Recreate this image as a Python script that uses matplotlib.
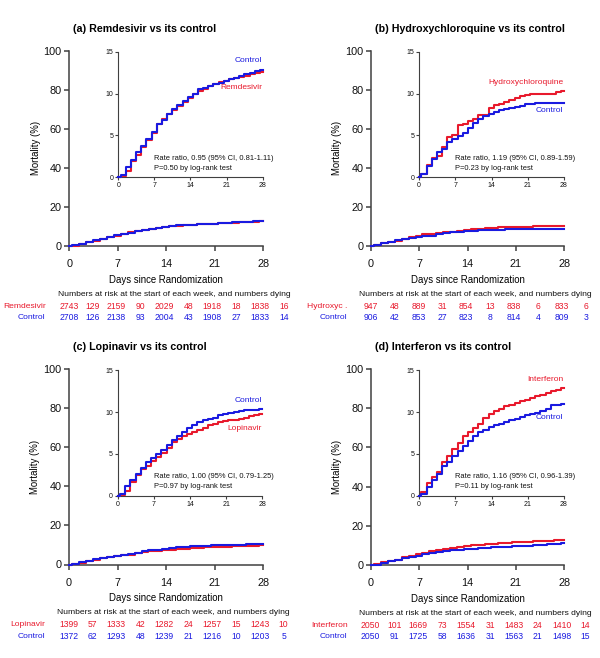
import matplotlib
matplotlib.use('Agg')
import matplotlib.pyplot as plt
import numpy as np

plt.rcParams['font.family'] = ['Liberation Sans', 'DejaVu Sans']

# ---------------- data ----------------
days_max = 28
step_days = np.arange(0.45, 28, 1.0)   # daily event times

remdesivir_arm = [0.2, 0.8, 1.9, 2.7, 3.6, 4.4, 5.3, 6.4, 7.0, 7.6, 8.0, 8.5, 9.0, 9.5,
                  10.0, 10.3, 10.6, 10.9, 11.2, 11.4, 11.5, 11.7, 11.9, 12.0, 12.1, 12.3, 12.4, 12.6]
remdesivir_ctrl = [0.3, 1.2, 2.1, 3.0, 3.7, 4.6, 5.4, 6.4, 6.9, 7.6, 8.1, 8.6, 9.1, 9.6,
                   10.0, 10.5, 10.7, 10.9, 11.1, 11.3, 11.5, 11.7, 11.9, 12.1, 12.3, 12.5, 12.7, 12.8]

hcq_arm = [0.4, 1.5, 2.3, 2.5, 3.6, 4.8, 5.1, 6.2, 6.4, 6.7, 7.0, 7.4, 7.5, 8.3,
           8.6, 8.8, 9.0, 9.2, 9.5, 9.7, 9.8, 9.9, 9.9, 10.0, 10.0, 10.0, 10.2, 10.3]
hcq_ctrl = [0.4, 1.4, 2.2, 3.0, 3.4, 4.2, 4.6, 4.9, 5.3, 5.9, 6.5, 7.0, 7.3, 7.6,
            7.8, 8.0, 8.2, 8.3, 8.4, 8.5, 8.7, 8.8, 8.9, 8.9, 8.9, 8.9, 8.9, 8.9]

lopinavir_arm = [0.1, 0.6, 1.6, 2.5, 3.2, 3.6, 4.1, 4.6, 5.1, 5.7, 6.4, 6.8, 7.1, 7.4,
                 7.6, 7.8, 8.1, 8.4, 8.6, 8.8, 8.9, 9.0, 9.0, 9.2, 9.3, 9.5, 9.6, 9.8]
lopinavir_ctrl = [0.2, 1.2, 1.9, 2.6, 3.3, 4.0, 4.5, 5.0, 5.5, 6.1, 6.7, 7.2, 7.6, 8.1,
                  8.5, 8.8, 9.0, 9.2, 9.3, 9.7, 9.8, 9.9, 10.0, 10.1, 10.2, 10.3, 10.3, 10.4]

interferon_arm = [0.5, 1.5, 2.2, 2.8, 4.0, 4.8, 5.6, 6.3, 7.1, 7.6, 8.1, 8.6, 9.3, 9.8,
                  10.1, 10.4, 10.7, 10.9, 11.1, 11.3, 11.5, 11.7, 11.9, 12.1, 12.3, 12.5, 12.7, 12.9]
interferon_ctrl = [0.2, 1.1, 1.9, 2.6, 3.5, 4.0, 4.8, 5.4, 5.9, 6.5, 7.1, 7.6, 7.9, 8.2,
                   8.4, 8.6, 8.8, 9.0, 9.2, 9.4, 9.6, 9.8, 9.9, 10.1, 10.4, 10.8, 10.9, 11.0]

remdesivir_risk_arm = [2743, 129, 2159, 90, 2029, 48, 1918, 18, 1838, 16]
remdesivir_risk_ctrl = [2708, 126, 2138, 93, 2004, 43, 1908, 27, 1833, 14]
hcq_risk_arm = [947, 48, 889, 31, 854, 13, 838, 6, 833, 6]
hcq_risk_ctrl = [906, 42, 853, 27, 823, 8, 814, 4, 809, 3]
lopinavir_risk_arm = [1399, 57, 1333, 42, 1282, 24, 1257, 15, 1243, 10]
lopinavir_risk_ctrl = [1372, 62, 1293, 48, 1239, 21, 1216, 10, 1203, 5]
interferon_risk_arm = [2050, 101, 1669, 73, 1554, 31, 1483, 24, 1410, 14]
interferon_risk_ctrl = [2050, 91, 1725, 58, 1636, 31, 1563, 21, 1498, 15]

titles = ['(a) Remdesivir vs its control', '(b) Hydroxychloroquine vs its control',
          '(c) Lopinavir vs its control', '(d) Interferon vs its control']
arm_names = ['Remdesivir', 'Hydroxychloroquine', 'Lopinavir', 'Interferon']
row_names = ['Remdesivir', 'Hydroxyc .', 'Lopinavir', 'Interferon']
stats = [('Rate ratio, 0.95 (95% CI, 0.81-1.11)', 'P=0.50 by log-rank test'),
         ('Rate ratio, 1.19 (95% CI, 0.89-1.59)', 'P=0.23 by log-rank test'),
         ('Rate ratio, 1.00 (95% CI, 0.79-1.25)', 'P=0.97 by log-rank test'),
         ('Rate ratio, 1.16 (95% CI, 0.96-1.39)', 'P=0.11 by log-rank test')]

arms = [remdesivir_arm, hcq_arm, lopinavir_arm, interferon_arm]
ctrls = [remdesivir_ctrl, hcq_ctrl, lopinavir_ctrl, interferon_ctrl]
risk_arm = [remdesivir_risk_arm, hcq_risk_arm, lopinavir_risk_arm, interferon_risk_arm]
risk_ctrl = [remdesivir_risk_ctrl, hcq_risk_ctrl, lopinavir_risk_ctrl, interferon_risk_ctrl]

# label positions (inset data coords): arm label y, control label y
label_y = [(10.7, 13.9), (11.35, 7.96), (7.98, 11.4), (13.84, 9.38)]

# ---------------- layout (pixels) ----------------
W, H = 600, 658
RED = '#e8192c'
BLUE = '#1a1ae0'
SPINE = '#404040'

main_boxes = [(69.3, 50.7, 263.3, 246.0), (371.0, 50.7, 564.3, 246.0),
              (69.0, 368.7, 263.3, 564.5), (371.0, 369.0, 564.3, 565.0)]
inset_boxes = [(118.3, 51.7, 262.7, 177.3), (419.0, 51.7, 564.0, 177.3),
               (117.7, 370.3, 262.3, 495.7), (419.0, 370.3, 564.0, 495.7)]

fig = plt.figure(figsize=(W / 100, H / 100), dpi=100)


def add_px_axes(box):
    l, t, r, b = box
    return fig.add_axes([l / W, 1 - b / H, (r - l) / W, (b - t) / H])


def curve(vals):
    x = np.concatenate([[0], step_days, [days_max]])
    y = np.concatenate([[0], vals, [vals[-1]]])
    return x, y


def style(ax, lw, tl, fs, col=SPINE):
    for s in ['top', 'right']:
        ax.spines[s].set_visible(False)
    for s in ['left', 'bottom']:
        ax.spines[s].set_color(col)
        ax.spines[s].set_linewidth(lw)
    ax.tick_params(direction='out', length=tl, width=lw, colors=col, labelsize=fs,
                   labelcolor='#111111', pad=2)


for i in range(4):
    ax = add_px_axes(main_boxes[i])
    xa, ya = curve(arms[i])
    xc, yc = curve(ctrls[i])
    ax.step(xa, ya, where='post', color=RED, lw=1.5, clip_on=False, zorder=3)
    ax.step(xc, yc, where='post', color=BLUE, lw=1.5, clip_on=False, zorder=4)
    ax.set_xlim(0, 28)
    ax.set_ylim(0, 100)
    ax.set_xticks([0, 7, 14, 21, 28])
    ax.set_yticks([0, 20, 40, 60, 80, 100])
    style(ax, 1.1, 3.5, 7.8)
    ax.tick_params(axis='x', pad=6)
    ax.set_xlabel('Days since Randomization', fontsize=6.9, labelpad=4)
    ax.set_ylabel('Mortality (%)', fontsize=6.9, labelpad=2)

    l, t, r, b = main_boxes[i]
    fig.text((l + 4) / W, 1 - (t - 21.5) / H, titles[i], fontsize=7.7, fontweight='bold',
             ha='left', va='center')

    # risk table
    fig.text((l - 11.6) / W, 1 - (b + 48.5) / H,
             'Numbers at risk at the start of each week, and numbers dying',
             fontsize=6.1, ha='left', va='center', color='#111111')
    for row, (name, vals, col) in enumerate([(row_names[i], risk_arm[i], RED),
                                             ('Control', risk_ctrl[i], BLUE)]):
        yy = 1 - (b + 60.2 + row * 11.4) / H
        fig.text((l - 23.6) / W, yy, name, fontsize=6.1, ha='right', va='center', color=col)
        for k, v in enumerate(vals):
            fig.text((l - 0.5 + k * 23.9) / W, yy, str(v), fontsize=6.2, ha='center',
                     va='center', color=col)

    # inset
    ins = add_px_axes(inset_boxes[i])
    ins.set_facecolor('white')
    ins.step(xa, ya, where='post', color=RED, lw=1.5, clip_on=False, zorder=3)
    ins.step(xc, yc, where='post', color=BLUE, lw=1.5, clip_on=False, zorder=4)
    ins.set_xlim(0, 28)
    ins.set_ylim(0, 15)
    ins.set_xticks([0, 7, 14, 21, 28])
    ins.set_yticks([0, 5, 10, 15])
    style(ins, 0.8, 2.0, 5.0)
    ins.tick_params(pad=1.5)
    ins.text(7, 2.25, stats[i][0], fontsize=5.4, ha='left', va='center', color='#111111')
    ins.text(7, 1.07, stats[i][1], fontsize=5.4, ha='left', va='center', color='#111111')
    ins.text(27.9, label_y[i][0], arm_names[i], fontsize=6.0, ha='right', va='center', color=RED)
    ins.text(27.9, label_y[i][1], 'Control', fontsize=6.0, ha='right', va='center', color=BLUE)

fig.savefig('out.png', dpi=100)
